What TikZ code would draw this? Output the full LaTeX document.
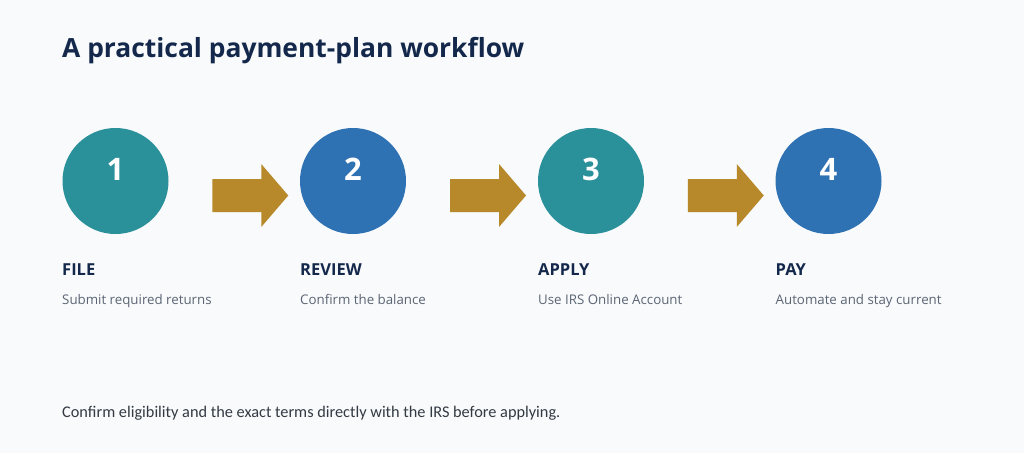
\documentclass[tikz,border=0pt]{standalone}
\usepackage{fontspec}
\setmainfont{Open Sans}
\newfontfamily\footfont{Carlito}
\definecolor{bgc}{HTML}{F8FAFC}
\definecolor{navy}{HTML}{14284B}
\definecolor{tealc}{HTML}{2A9099}
\definecolor{bluec}{HTML}{2E72B4}
\definecolor{goldc}{HTML}{B8892A}
\definecolor{grayc}{HTML}{5B6573}
\definecolor{footc}{HTML}{333A42}
\tikzset{
  stepcircle/.style={circle, minimum size=106pt, inner sep=0pt},
  numtext/.style={font=\fontsize{31}{31}\selectfont\bfseries, text=white, anchor=center},
  steptitle/.style={font=\fontsize{16.5}{18}\selectfont\bfseries, text=navy, anchor=base west, inner sep=0pt},
  stepsub/.style={font=\fontsize{13.3}{16}\selectfont, text=grayc, anchor=base west, inner sep=0pt},
  flowarrow/.style={fill=goldc, draw=none},
}
\newcommand{\flowarrowat}[1]{%
  \fill[flowarrow] ($(#1)+(-38,-16.5)$) -- ++(49,0) -- ++(0,-15) -- ($(#1)+(38,0)$)
    -- ($(#1)+(11,31.5)$) -- ++(0,-15) -- ++(-49,0) -- cycle;}
\usetikzlibrary{calc}
\begin{document}
\begin{tikzpicture}[x=1pt,y=-1pt]
\fill[bgc] (0,0) rectangle (1024,453);
\useasboundingbox (0,0) rectangle (1024,453);
\node[anchor=base west, inner sep=0pt, text=navy, font=\fontsize{26.4}{30}\selectfont\bfseries] (title) at (62,57) {A practical payment-plan workflow};
% circles
\node[stepcircle, fill=tealc] (c1) at (115.5,181) {};
\node[stepcircle, fill=bluec] (c2) at (353,181) {};
\node[stepcircle, fill=tealc] (c3) at (591,181) {};
\node[stepcircle, fill=bluec] (c4) at (828.5,181) {};
\node[numtext] (n1) at (115.5,169) {1};
\node[numtext] (n2) at (353,169) {2};
\node[numtext] (n3) at (591,169) {3};
\node[numtext] (n4) at (828.5,169) {4};
% arrows
\coordinate (a1) at ($(c1.east)!0.5!(c2.west)+(16,14.5)$);
\coordinate (a2) at ($(c2.east)!0.5!(c3.west)+(16,14.5)$);
\coordinate (a3) at ($(c3.east)!0.5!(c4.west)+(16,14.5)$);
\flowarrowat{a1}
\flowarrowat{a2}
\flowarrowat{a3}
% labels
\node[steptitle] (t1) at (62,275) {FILE};
\node[steptitle] (t2) at (300,275) {REVIEW};
\node[steptitle] (t3) at (538,275) {APPLY};
\node[steptitle] (t4) at (775.5,275) {PAY};
\node[stepsub] (s1) at (62,304) {Submit required returns};
\node[stepsub] (s2) at (300,304) {Confirm the balance};
\node[stepsub] (s3) at (538,304) {Use IRS Online Account};
\node[stepsub] (s4) at (775.5,304) {Automate and stay current};
\node[anchor=base west, inner sep=0pt, text=footc, font=\footfont\fontsize{16.3}{18}\selectfont] (foot) at (62,417) {Confirm eligibility and the exact terms directly with the IRS before applying.};
\end{tikzpicture}
\end{document}
